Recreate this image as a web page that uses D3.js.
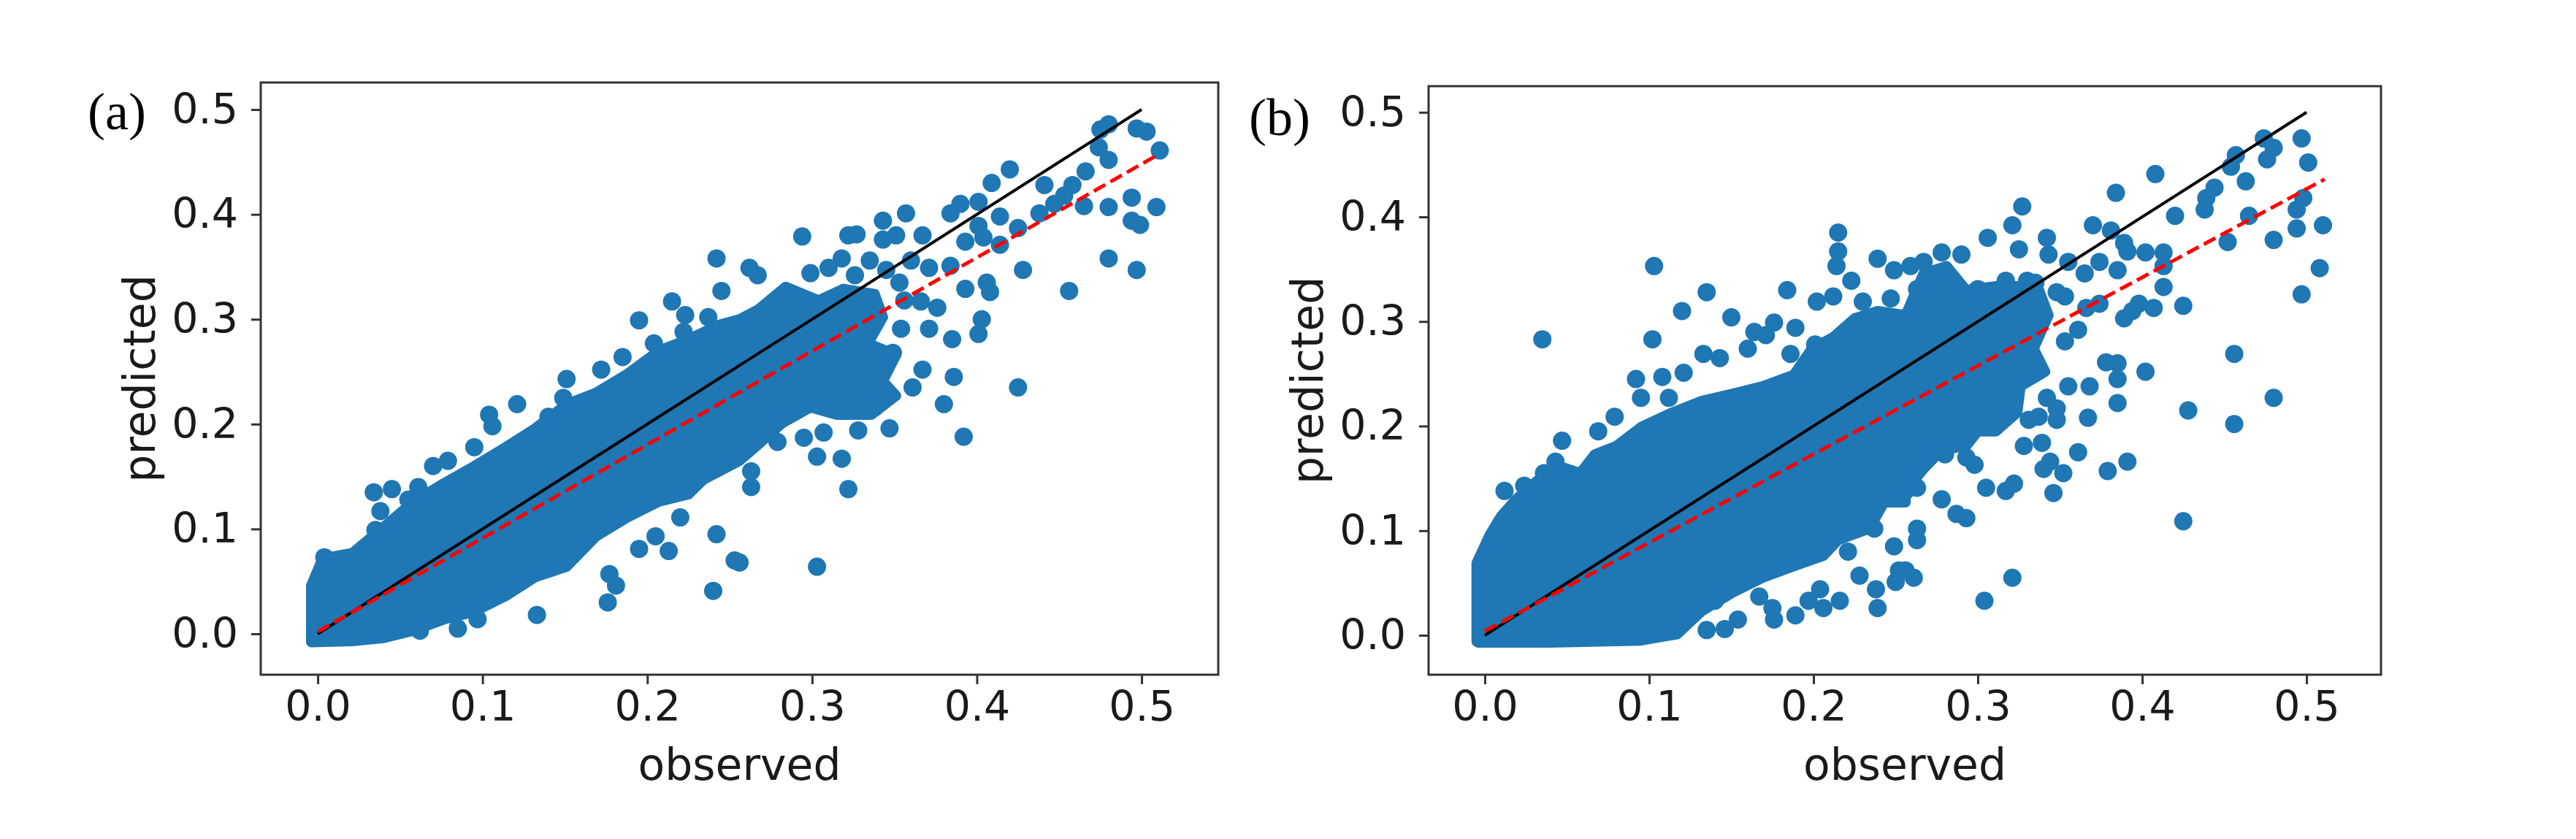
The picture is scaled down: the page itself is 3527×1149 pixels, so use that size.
<!DOCTYPE html>
<html>
<head>
<meta charset="utf-8">
<script src="https://cdn.jsdelivr.net/npm/d3@7"></script>
<style>
  body { margin: 0; background: #fff; }
  text { font-family: "DejaVu Sans", sans-serif; fill: #1a1a1a; }
  .panel-label { font-family: "Liberation Serif", serif; }
</style>
</head>
<body>
<div class="chartHolder"></div>
<script>
var width = 3527;
var height = 1149;

var xTicks = [0.0, 0.1, 0.2, 0.3, 0.4, 0.5];
var yTicks = [0.0, 0.1, 0.2, 0.3, 0.4, 0.5];
var panelLabels = ["(a)", "(b)"];
var xLabel = "observed";
var yLabel = "predicted";

// x = y reference line and fitted regression lines
var identityLine = [[0, 0], [0.5, 0.5]];
var fitA = [[0, 0.002], [0.51, 0.457]];
var fitB = [[0, 0.004], [0.511, 0.436]];

// outline of the dense cloud (observed, predicted)
var coreA = [
  [-0.004, -0.004], [-0.004, 0.046], [0.003, 0.072], [0.021, 0.077], [0.040, 0.102],
  [0.058, 0.126], [0.077, 0.144], [0.095, 0.160], [0.114, 0.178], [0.132, 0.196],
  [0.151, 0.219], [0.169, 0.230], [0.188, 0.248], [0.207, 0.270], [0.225, 0.281],
  [0.244, 0.295], [0.256, 0.300], [0.267, 0.309], [0.284, 0.331], [0.304, 0.318],
  [0.319, 0.329], [0.338, 0.324], [0.343, 0.302], [0.334, 0.277], [0.351, 0.266],
  [0.343, 0.241], [0.351, 0.227], [0.336, 0.209], [0.315, 0.209], [0.299, 0.216],
  [0.282, 0.201], [0.267, 0.180], [0.256, 0.165], [0.234, 0.147], [0.225, 0.133],
  [0.207, 0.126], [0.188, 0.111], [0.169, 0.093], [0.151, 0.064], [0.132, 0.054],
  [0.114, 0.036], [0.095, 0.021], [0.077, 0.014], [0.058, 0.003], [0.040, -0.004],
  [0.021, -0.007], [-0.004, -0.008]
];
var coreB = [
  [-0.005, -0.006], [-0.005, 0.069], [0.003, 0.096], [0.010, 0.114], [0.019, 0.130],
  [0.032, 0.148], [0.043, 0.163], [0.058, 0.155], [0.067, 0.173], [0.080, 0.181],
  [0.095, 0.199], [0.114, 0.213], [0.132, 0.224], [0.151, 0.231], [0.169, 0.238],
  [0.188, 0.249], [0.199, 0.274], [0.212, 0.285], [0.225, 0.303], [0.239, 0.310],
  [0.256, 0.306], [0.267, 0.346], [0.281, 0.353], [0.293, 0.330], [0.317, 0.335],
  [0.337, 0.331], [0.343, 0.306], [0.334, 0.274], [0.341, 0.252], [0.326, 0.238],
  [0.324, 0.213], [0.311, 0.195], [0.300, 0.195], [0.293, 0.181], [0.278, 0.177],
  [0.267, 0.159], [0.256, 0.138], [0.256, 0.127], [0.243, 0.127], [0.234, 0.102],
  [0.215, 0.091], [0.206, 0.076], [0.188, 0.066], [0.169, 0.055], [0.151, 0.041],
  [0.132, 0.023], [0.117, 0.001], [0.095, -0.005], [0.040, -0.007], [-0.004, -0.007]
];

// separate points (observed, predicted)
var pointsA = [
  [0.242, 0.358], [0.245, 0.327], [0.215, 0.317], [0.223, 0.304], [0.195, 0.299],
  [0.237, 0.302], [0.204, 0.277], [0.222, 0.288], [0.185, 0.264], [0.172, 0.252],
  [0.151, 0.243], [0.121, 0.219], [0.104, 0.209], [0.106, 0.198], [0.140, 0.207],
  [0.149, 0.225], [0.095, 0.178], [0.079, 0.165], [0.070, 0.160], [0.034, 0.135],
  [0.045, 0.138], [0.061, 0.140], [0.055, 0.128], [0.038, 0.117], [0.035, 0.099],
  [0.004, 0.073], [0.242, 0.095], [0.253, 0.070], [0.240, 0.041], [0.195, 0.081],
  [0.213, 0.079], [0.220, 0.111], [0.205, 0.093], [0.177, 0.057], [0.181, 0.046],
  [0.176, 0.030], [0.133, 0.018], [0.085, 0.005], [0.097, 0.014], [0.062, 0.003],
  [0.480, 0.486], [0.475, 0.481], [0.497, 0.482], [0.503, 0.479], [0.511, 0.461],
  [0.474, 0.464], [0.480, 0.452], [0.466, 0.441], [0.420, 0.443], [0.409, 0.430],
  [0.441, 0.428], [0.458, 0.428], [0.453, 0.418], [0.465, 0.408], [0.438, 0.401],
  [0.447, 0.410], [0.480, 0.407], [0.494, 0.416], [0.509, 0.407], [0.494, 0.394],
  [0.499, 0.390], [0.480, 0.358], [0.497, 0.347], [0.428, 0.347], [0.456, 0.327],
  [0.414, 0.398], [0.425, 0.387], [0.414, 0.371], [0.390, 0.410], [0.401, 0.412],
  [0.384, 0.401], [0.357, 0.401], [0.343, 0.394], [0.343, 0.376], [0.351, 0.380],
  [0.322, 0.380], [0.327, 0.381], [0.294, 0.379], [0.367, 0.380], [0.371, 0.349],
  [0.360, 0.356], [0.384, 0.351], [0.393, 0.374], [0.404, 0.378], [0.401, 0.389],
  [0.335, 0.356], [0.318, 0.358], [0.326, 0.342], [0.262, 0.349], [0.267, 0.342],
  [0.299, 0.344], [0.310, 0.349], [0.345, 0.347], [0.353, 0.335], [0.356, 0.318],
  [0.366, 0.317], [0.376, 0.311], [0.393, 0.329], [0.406, 0.335], [0.408, 0.326],
  [0.403, 0.300], [0.401, 0.286], [0.385, 0.281], [0.371, 0.291], [0.354, 0.291],
  [0.349, 0.268], [0.367, 0.252], [0.361, 0.235], [0.386, 0.245], [0.380, 0.219],
  [0.425, 0.235], [0.392, 0.188], [0.347, 0.196], [0.328, 0.194], [0.307, 0.192],
  [0.295, 0.187], [0.279, 0.183], [0.303, 0.169], [0.318, 0.167], [0.322, 0.138],
  [0.263, 0.155], [0.263, 0.140], [0.256, 0.068], [0.303, 0.064], [0.343, 0.227],
  [0.338, 0.216], [0.284, 0.209]
];
var pointsB = [
  [0.215, 0.385], [0.215, 0.367], [0.214, 0.353], [0.223, 0.339], [0.239, 0.360],
  [0.249, 0.349], [0.184, 0.330], [0.135, 0.328], [0.120, 0.310], [0.150, 0.304],
  [0.103, 0.353], [0.102, 0.283], [0.035, 0.283], [0.189, 0.294], [0.176, 0.299],
  [0.164, 0.290], [0.171, 0.287], [0.160, 0.274], [0.133, 0.269], [0.143, 0.265],
  [0.121, 0.251], [0.108, 0.247], [0.092, 0.245], [0.095, 0.227], [0.112, 0.227],
  [0.079, 0.209], [0.069, 0.195], [0.047, 0.186], [0.012, 0.138], [0.024, 0.143],
  [0.202, 0.319], [0.212, 0.324], [0.230, 0.319], [0.247, 0.322], [0.186, 0.269],
  [0.201, 0.278], [0.010, 0.107], [0.036, 0.155], [0.043, 0.166],
  [0.176, 0.015], [0.175, 0.026], [0.189, 0.019], [0.197, 0.033], [0.204, 0.044],
  [0.206, 0.026], [0.216, 0.033], [0.167, 0.037], [0.154, 0.015], [0.146, 0.006],
  [0.135, 0.005], [0.140, 0.033], [0.221, 0.080], [0.228, 0.057], [0.238, 0.044],
  [0.239, 0.026], [0.249, 0.085], [0.252, 0.062], [0.250, 0.051], [0.237, 0.102],
  [0.232, 0.112],
  [0.474, 0.475], [0.480, 0.466], [0.476, 0.455], [0.497, 0.475], [0.501, 0.452],
  [0.457, 0.459], [0.454, 0.448], [0.463, 0.434], [0.444, 0.428], [0.439, 0.418],
  [0.438, 0.407], [0.420, 0.401], [0.408, 0.441], [0.384, 0.423], [0.498, 0.418],
  [0.494, 0.407], [0.510, 0.392], [0.494, 0.389], [0.480, 0.378], [0.465, 0.401],
  [0.452, 0.376], [0.508, 0.351], [0.497, 0.326], [0.425, 0.315], [0.456, 0.269],
  [0.480, 0.227], [0.428, 0.215], [0.456, 0.202], [0.425, 0.109], [0.402, 0.252],
  [0.385, 0.260], [0.378, 0.261], [0.385, 0.245], [0.385, 0.222], [0.367, 0.208],
  [0.355, 0.238], [0.368, 0.238], [0.361, 0.292], [0.353, 0.281], [0.361, 0.175],
  [0.379, 0.157], [0.391, 0.166], [0.346, 0.136], [0.327, 0.410], [0.321, 0.392],
  [0.325, 0.369], [0.306, 0.380], [0.342, 0.380], [0.343, 0.364], [0.370, 0.392],
  [0.381, 0.387], [0.389, 0.375], [0.391, 0.367], [0.402, 0.366], [0.413, 0.366],
  [0.413, 0.353], [0.413, 0.333], [0.407, 0.313], [0.398, 0.317], [0.389, 0.303],
  [0.394, 0.310], [0.374, 0.317], [0.366, 0.313], [0.365, 0.346], [0.374, 0.357],
  [0.385, 0.349], [0.355, 0.357], [0.353, 0.324], [0.348, 0.328], [0.337, 0.209],
  [0.331, 0.206], [0.348, 0.217], [0.342, 0.227], [0.348, 0.206], [0.328, 0.181],
  [0.339, 0.184], [0.344, 0.166], [0.352, 0.155], [0.340, 0.159], [0.322, 0.145],
  [0.317, 0.138], [0.305, 0.141], [0.298, 0.163], [0.293, 0.170], [0.280, 0.173],
  [0.274, 0.181], [0.278, 0.130], [0.287, 0.116], [0.293, 0.112], [0.263, 0.102],
  [0.263, 0.091], [0.263, 0.141], [0.256, 0.138], [0.261, 0.055], [0.256, 0.062],
  [0.321, 0.055], [0.304, 0.033], [0.278, 0.366], [0.290, 0.364], [0.267, 0.357],
  [0.259, 0.353], [0.263, 0.331], [0.300, 0.331], [0.317, 0.339], [0.330, 0.339],
  [0.335, 0.337]
];

var svgContainer = d3
  .select(".chartHolder")
  .append("svg")
  .attr("width", width)
  .attr("height", height);

var panels = [
  {
    label: panelLabels[0], labelX: 120, labelY: 177,
    left: 357, right: 1668, top: 113, bottom: 924,
    xLim: [-0.0346, 0.5465], yLim: [-0.039, 0.5258],
    core: coreA, points: pointsA, fit: fitA
  },
  {
    label: panelLabels[1], labelX: 1710, labelY: 185,
    left: 1956, right: 3260, top: 118, bottom: 924,
    xLim: [-0.0342, 0.5453], yLim: [-0.0377, 0.525],
    core: coreB, points: pointsB, fit: fitB
  }
];

var dotColor = "#1f77b4";

panels.forEach(function (p, i) {
  var xScale = d3.scaleLinear().domain(p.xLim).range([p.left, p.right]);
  var yScale = d3.scaleLinear().domain(p.yLim).range([p.bottom, p.top]);

  var g = svgContainer.append("g");

  g.append("clipPath")
    .attr("id", "clip" + i)
    .append("rect")
    .attr("x", p.left)
    .attr("y", p.top)
    .attr("width", p.right - p.left)
    .attr("height", p.bottom - p.top);

  var plot = g.append("g").attr("clip-path", "url(#clip" + i + ")");

  var straight = d3
    .line()
    .x((d) => xScale(d[0]))
    .y((d) => yScale(d[1]));

  // dense cloud: outline filled, with a round stroke so the edge
  // stays lumpy like overlapping markers
  plot
    .append("path")
    .datum(p.core)
    .attr("d", (d) => straight(d) + "Z")
    .style("fill", dotColor)
    .style("stroke", dotColor)
    .style("stroke-width", 14)
    .style("stroke-linejoin", "round");

  plot
    .selectAll("circle")
    .data(p.points)
    .enter()
    .append("circle")
    .attr("cx", (d) => xScale(d[0]))
    .attr("cy", (d) => yScale(d[1]))
    .attr("r", 12.5)
    .style("fill", dotColor);

  plot
    .append("path")
    .datum(identityLine)
    .attr("d", straight)
    .style("fill", "none")
    .style("stroke", "#000")
    .style("stroke-width", 4);

  plot
    .append("path")
    .datum(p.fit)
    .attr("d", straight)
    .style("fill", "none")
    .style("stroke", "#ff0000")
    .style("stroke-width", 5)
    .style("stroke-dasharray", "18,8");

  // axes
  var xAxis = d3
    .axisBottom(xScale)
    .tickValues(xTicks)
    .tickFormat(d3.format(".1f"))
    .tickSize(13)
    .tickPadding(10);

  var yAxis = d3
    .axisLeft(yScale)
    .tickValues(yTicks)
    .tickFormat(d3.format(".1f"))
    .tickSize(13)
    .tickPadding(18);

  var xAxisGroup = g
    .append("g")
    .attr("transform", "translate(0," + p.bottom + ")")
    .call(xAxis);

  var yAxisGroup = g
    .append("g")
    .attr("transform", "translate(" + p.left + ",0)")
    .call(yAxis);

  [xAxisGroup, yAxisGroup].forEach(function (ax) {
    ax.select(".domain").remove();
    ax.selectAll(".tick line").style("stroke", "#333").style("stroke-width", 3);
    ax.selectAll(".tick text")
      .style("font-size", "57px")
      .style("font-family", "DejaVu Sans")
      .style("fill", "#1a1a1a");
  });

  // frame
  g.append("rect")
    .attr("x", p.left)
    .attr("y", p.top)
    .attr("width", p.right - p.left)
    .attr("height", p.bottom - p.top)
    .style("fill", "none")
    .style("stroke", "#333")
    .style("stroke-width", 3);

  g.append("text")
    .attr("x", (p.left + p.right) / 2)
    .attr("y", 1068)
    .attr("text-anchor", "middle")
    .style("font-size", "60px")
    .text(xLabel);

  g.append("text")
    .attr(
      "transform",
      "translate(" + (p.left - 145) + "," + (p.top + p.bottom) / 2 + ") rotate(-90)"
    )
    .attr("text-anchor", "middle")
    .style("font-size", "60px")
    .text(yLabel);

  g.append("text")
    .attr("class", "panel-label")
    .attr("x", p.labelX)
    .attr("y", p.labelY)
    .style("font-size", "72px")
    .style("fill", "#000")
    .text(p.label);
});
</script>
</body>
</html>
